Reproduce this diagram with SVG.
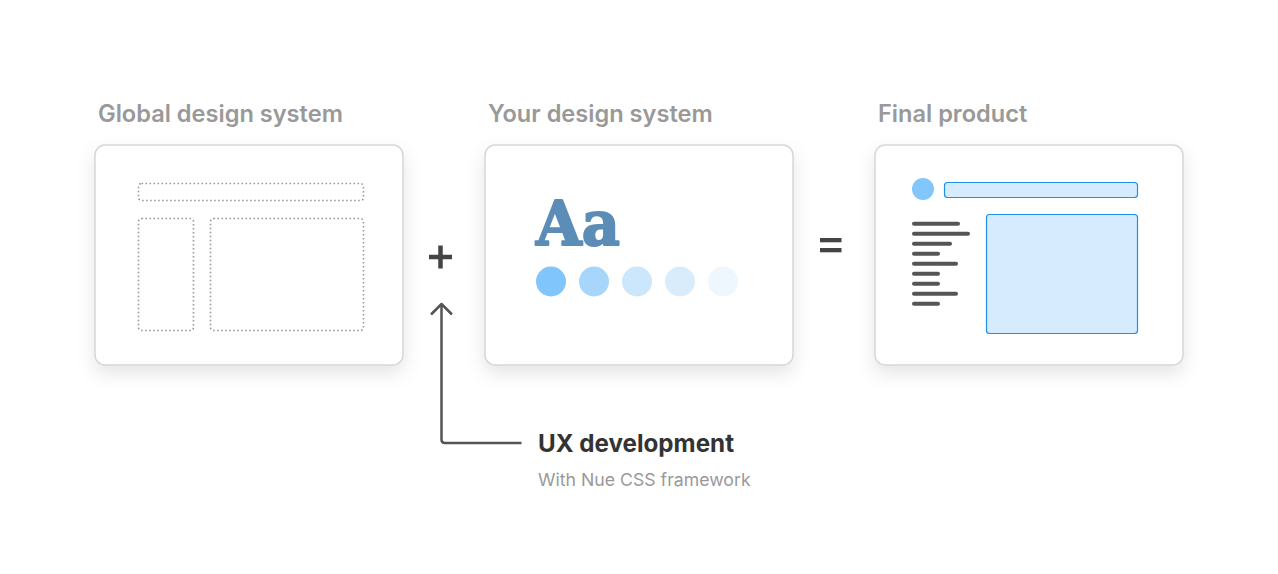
<svg xmlns="http://www.w3.org/2000/svg" width="1278" height="574" viewBox="0 0 1278 574">
<defs>
<filter id="sh" x="-20%" y="-20%" width="140%" height="150%">
<feDropShadow dx="0" dy="8" stdDeviation="9" flood-color="#000" flood-opacity="0.10"/>
</filter>
</defs>
<style>
.card{fill:#fff;stroke:#d6d6d6;stroke-width:1.5}
.title{font-family:Inter,"Liberation Sans",sans-serif;font-weight:600;font-size:23.6px;fill:#999}
.dot{fill:none;stroke:#999;stroke-width:1.6;stroke-dasharray:1.6 2.4}
.blue{fill:#d6ebfd;stroke:#1e8ff0;stroke-width:1.2}
.ln{stroke:#555;stroke-width:4;stroke-linecap:round}
.conn{fill:none;stroke:#555;stroke-width:2.5;stroke-linejoin:round}
</style>
<rect width="1278" height="574" fill="#fff"/>

<g id="global">
<text class="title" x="98" y="122">Global design system</text>
<rect class="card" x="95" y="145" width="308" height="220" rx="10" filter="url(#sh)"/>
<rect class="dot" x="138.5" y="183.5" width="225" height="17" rx="3"/>
<rect class="dot" x="138.5" y="218.5" width="55" height="112" rx="3"/>
<rect class="dot" x="210.5" y="218.5" width="153" height="112" rx="3"/>
</g>

<g id="yours">
<text class="title" x="488" y="122">Your design system</text>
<rect class="card" x="485" y="145" width="308" height="220" rx="10" filter="url(#sh)"/>
<text x="536" y="245" font-family="'DejaVu Serif',serif" font-weight="bold" font-size="62" fill="#5b8db6" stroke="#5b8db6" stroke-width="2" stroke-linejoin="round" textLength="84" lengthAdjust="spacingAndGlyphs">Aa</text>
<circle cx="551" cy="281.5" r="15" fill="#80c6fc"/>
<circle cx="594" cy="281.5" r="15" fill="#a7d6fa"/>
<circle cx="637" cy="281.5" r="15" fill="#cce6fb"/>
<circle cx="680" cy="281.5" r="15" fill="#d9ecfb"/>
<circle cx="723" cy="281.5" r="15" fill="#eff7fe"/>
</g>

<g id="final">
<text class="title" x="878" y="122">Final product</text>
<rect class="card" x="875" y="145" width="308" height="220" rx="10" filter="url(#sh)"/>
<circle cx="923" cy="189" r="11" fill="#82c6fc"/>
<rect class="blue" x="944.5" y="182.5" width="193" height="15" rx="3"/>
<rect class="blue" x="986.5" y="214.5" width="151" height="119" rx="3"/>
<line class="ln" x1="914" y1="223.7" x2="958" y2="223.7"/>
<line class="ln" x1="914" y1="233.7" x2="968" y2="233.7"/>
<line class="ln" x1="914" y1="243.7" x2="950" y2="243.7"/>
<line class="ln" x1="914" y1="253.7" x2="938" y2="253.7"/>
<line class="ln" x1="914" y1="263.7" x2="956" y2="263.7"/>
<line class="ln" x1="914" y1="273.7" x2="938" y2="273.7"/>
<line class="ln" x1="914" y1="283.7" x2="938" y2="283.7"/>
<line class="ln" x1="914" y1="293.7" x2="956" y2="293.7"/>
<line class="ln" x1="914" y1="303.7" x2="938" y2="303.7"/>
</g>

<g id="plus">
<path d="M429 257 H452 M440.5 245.5 V268.5" stroke="#444" stroke-width="4.5"/>
</g>

<g id="equals">
<rect x="820" y="238" width="21.5" height="4.3" fill="#444"/>
<rect x="820" y="248" width="21.5" height="4.3" fill="#444"/>
</g>

<g id="ux">
<text x="538" y="452" font-family="Inter,'Liberation Sans',sans-serif" font-weight="700" font-size="24.2" fill="#333">UX development</text>
<text x="538" y="486" font-family="Inter,'Liberation Sans',sans-serif" font-size="17.7" fill="#999">With Nue CSS framework</text>
</g>

<g id="connectors">
<path class="conn" d="M521.5 443 H445 Q441.5 443 441.5 439.5 V304"/>
<path class="conn" d="M431 314.5 L441.5 304 L452 314.5"/>
</g>
</svg>
